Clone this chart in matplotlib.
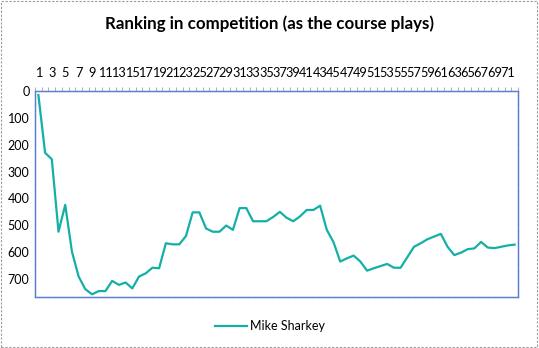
import numpy as np
import matplotlib.pyplot as plt
from matplotlib.patches import Rectangle

# Posición por hoyo (ranking)
holes = list(range(1, 73))
ranking = [15, 230, 254, 524, 424, 598, 691, 738, 757, 745,
           745, 707, 722, 713, 735, 691, 679, 658, 660, 567,
           571, 571, 540, 452, 452, 512, 524, 524, 501, 517,
           436, 436, 485, 485, 485, 469, 450, 472, 485, 467,
           443, 443, 427, 517, 563, 635, 623, 613, 635, 669,
           660, 652, 644, 658, 658, 619, 580, 567, 552, 542,
           532, 580, 611, 602, 589, 586, 562, 583, 585, 580,
           575, 572]
yticks = [0, 100, 200, 300, 400, 500, 600, 700]
player = 'Mike Sharkey'

plt.rcParams['font.family'] = ['Lato', 'DejaVu Sans']

fig = plt.figure(figsize=(5.39, 3.48), dpi=100)
ax = fig.add_axes([0.065, 0.1466, 0.896, 0.5919])

ax.plot(holes, ranking, color='#14AFA6', lw=1.6, label=player)

ax.set_xlim(0.5, 72.5)
ax.set_ylim(767, 0)
ax.set_yticks(yticks)
ax.tick_params(axis='y', length=0, labelsize=9, pad=4)

ax.xaxis.tick_top()
ax.set_xticks(holes[::2])
ax.set_xticklabels([str(h) for h in holes[::2]])
ax.set_xticks(np.arange(0.5, 73, 1), minor=True)
ax.tick_params(axis='x', which='major', length=0, labelsize=9.2, pad=9)
ax.tick_params(axis='x', which='minor', length=3, color='#A0A0A0', width=0.6)

for s in ax.spines.values():
    s.set_color('#5A7FD0')
    s.set_linewidth(1.0)
    s.set_linestyle((0, (1, 0.6)))

fig.suptitle('Ranking in competition (as the course plays)', y=0.955,
             fontsize=12.2, fontweight='bold')

fig.legend(loc='center', bbox_to_anchor=(0.5, 0.063), frameon=False,
           fontsize=9, handlelength=2.6, handletextpad=0.2)

fig.patches.append(Rectangle((0.002, 0.003), 0.995, 0.993, transform=fig.transFigure,
                             fill=False, edgecolor='#9A9A9A', lw=0.8,
                             linestyle=(0, (2, 1.5))))

plt.savefig('out.png', dpi=100)
